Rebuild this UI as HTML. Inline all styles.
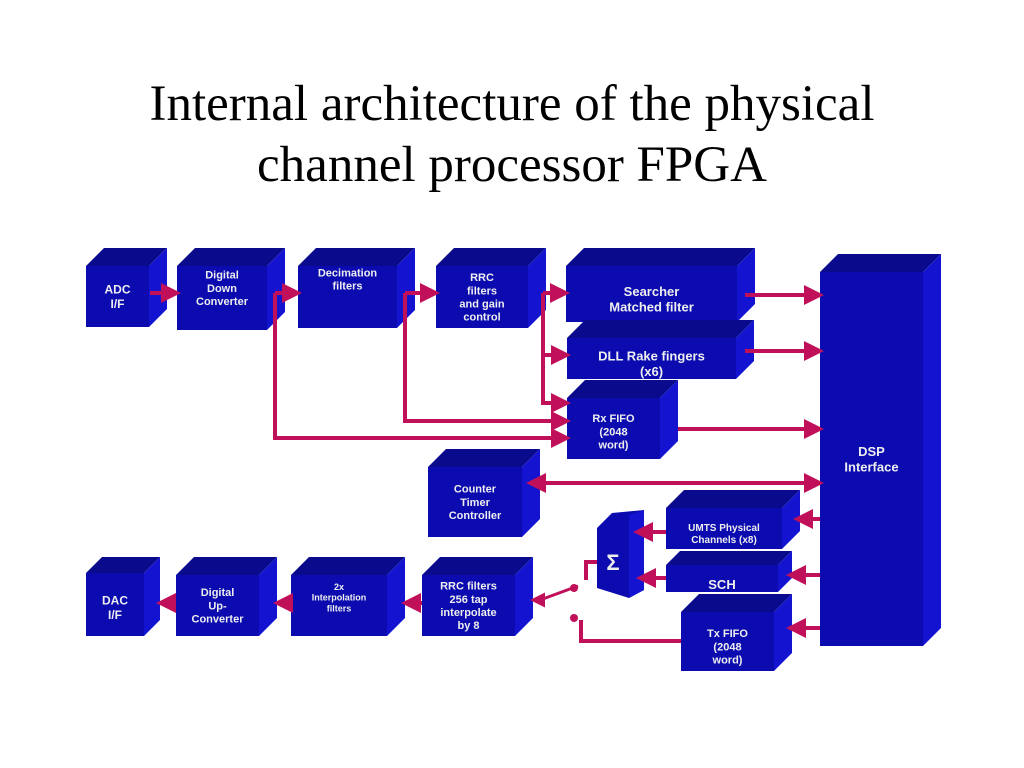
<!DOCTYPE html>
<html><head><meta charset="utf-8"><style>
body{margin:0;background:#fff;width:1024px;height:768px;overflow:hidden}
.t{position:absolute;left:0;width:1024px;text-align:center;font-family:"Liberation Serif",serif;font-size:51px;line-height:61px;top:74px;color:#000}
svg{position:absolute;left:0;top:0}
text{font-family:"Liberation Sans",sans-serif;font-weight:bold;fill:#eee;text-anchor:middle}
</style></head><body>
<div class="t">Internal architecture of the physical<br>channel processor FPGA</div>
<svg width="1024" height="768" viewBox="0 0 1024 768">
<defs>
<marker id="a" markerWidth="5" markerHeight="5" refX="4" refY="2.5" orient="auto" markerUnits="strokeWidth"><path d="M0,0L5,2.5L0,5z" fill="#c0105a"/></marker>
<marker id="b" markerWidth="5" markerHeight="5" refX="1" refY="2.5" orient="auto" markerUnits="strokeWidth"><path d="M5,0L0,2.5L5,5z" fill="#c0105a"/></marker>
</defs>
<g id="boxes"></g>
<g stroke="#c0105a" stroke-width="4" fill="none">
<path d="M150,293H177" marker-end="url(#a)"/>
<path d="M275,293H298" marker-end="url(#a)"/>
<path d="M275,293V438H567" marker-end="url(#a)"/>
<path d="M405,293H436" marker-end="url(#a)"/>
<path d="M405,293V421H567" marker-end="url(#a)"/>
<path d="M543,293H566" marker-end="url(#a)"/>
<path d="M543,293V403H567" marker-end="url(#a)"/>
<path d="M543,355H567" marker-end="url(#a)"/>
<path d="M745,295H820" marker-end="url(#a)"/>
<path d="M745,351H820" marker-end="url(#a)"/>
<path d="M678,429H820" marker-end="url(#a)"/>
<path d="M530,483H820" marker-end="url(#a)" marker-start="url(#b)"/>
<path d="M820,519H797" marker-end="url(#a)"/>
<path d="M666,532H637" marker-end="url(#a)"/>
<path d="M820,575H790" marker-end="url(#a)"/>
<path d="M666,578H640" marker-end="url(#a)"/>
<path d="M820,628H790" marker-end="url(#a)"/>
<path d="M681,641H581V620"/>
<path d="M597,562H586V580"/>
<path d="M578,586L540,600H533" stroke-width="3" marker-end="url(#a)"/>
<path d="M422,603H405" marker-end="url(#a)"/>
<path d="M291,603H277" marker-end="url(#a)"/>
<path d="M176,603H160" marker-end="url(#a)"/>
</g>
<circle cx="574" cy="588" r="4" fill="#c0105a"/>
<circle cx="574" cy="618" r="4" fill="#c0105a"/>
<g id="labels"></g>
</svg>
<script>
var B=[
[86,248,167,327,18,["ADC","I/F"],12,0],
[177,248,285,330,18,["Digital","Down","Converter"],11,-10],
[298,248,415,328,18,["Decimation","filters"],11,-18],
[436,248,546,328,18,["RRC","filters","and gain","control"],11,0],
[566,248,755,322,18,["Searcher","Matched filter"],13,5],
[567,320,754,379,18,["DLL Rake fingers","(x6)"],13,5],
[567,380,678,459,18,["Rx FIFO","(2048","word)"],11,3],
[820,254,941,646,18,["DSP","Interface"],13,0],
[428,449,540,537,18,["Counter","Timer","Controller"],11,0],
[666,490,800,549,18,["UMTS Physical","Channels (x8)"],10,5],
[666,551,792,592,14,["SCH"],13,6],
[681,594,792,671,18,["Tx FIFO","(2048","word)"],11,5],
[86,557,160,636,16,["DAC","I/F"],12,3],
[176,557,277,636,18,["Digital","Up-","Converter"],11,0],
[291,557,405,636,18,["2x","Interpolation","filters"],9,-8],
[422,557,533,636,18,["RRC filters","256 tap","interpolate","by 8"],11,0]];
var g=document.getElementById('boxes'),s='',l='';
B.forEach(function(b){var x0=b[0],y0=b[1],x1=b[2],y1=b[3],d=b[4];
s+='<polygon points="'+x0+','+(y0+d)+' '+(x0+d)+','+y0+' '+x1+','+y0+' '+(x1-d)+','+(y0+d)+'" fill="#0a0a8c"/>';
s+='<polygon points="'+(x1-d)+','+(y0+d)+' '+x1+','+y0+' '+x1+','+(y1-d)+' '+(x1-d)+','+y1+'" fill="#1414d0"/>';
s+='<rect x="'+x0+'" y="'+(y0+d)+'" width="'+(x1-d-x0)+'" height="'+(y1-y0-d)+'" fill="#0b0bb0"/>';
var fs=b[6],lh=fs*1.2,n=b[5].length,cx=(x0+x1-d)/2,cy=(y0+d+y1)/2+b[7];
b[5].forEach(function(t,i){l+='<text x="'+cx+'" y="'+(cy-(n-1)*lh/2+i*lh+fs*0.35)+'" font-size="'+fs+'">'+t+'</text>';});});
s+='<polygon points="597,528 612,513 644,510 644,590 629,598 597,588" fill="#0b0bb0"/><polygon points="629,515 644,510 644,590 629,598" fill="#1414d0"/>';
l+='<text x="613" y="570" font-size="22" font-family="Liberation Serif,serif">Σ</text>';
g.innerHTML=s;document.getElementById('labels').innerHTML=l;
</script>
</body></html>
